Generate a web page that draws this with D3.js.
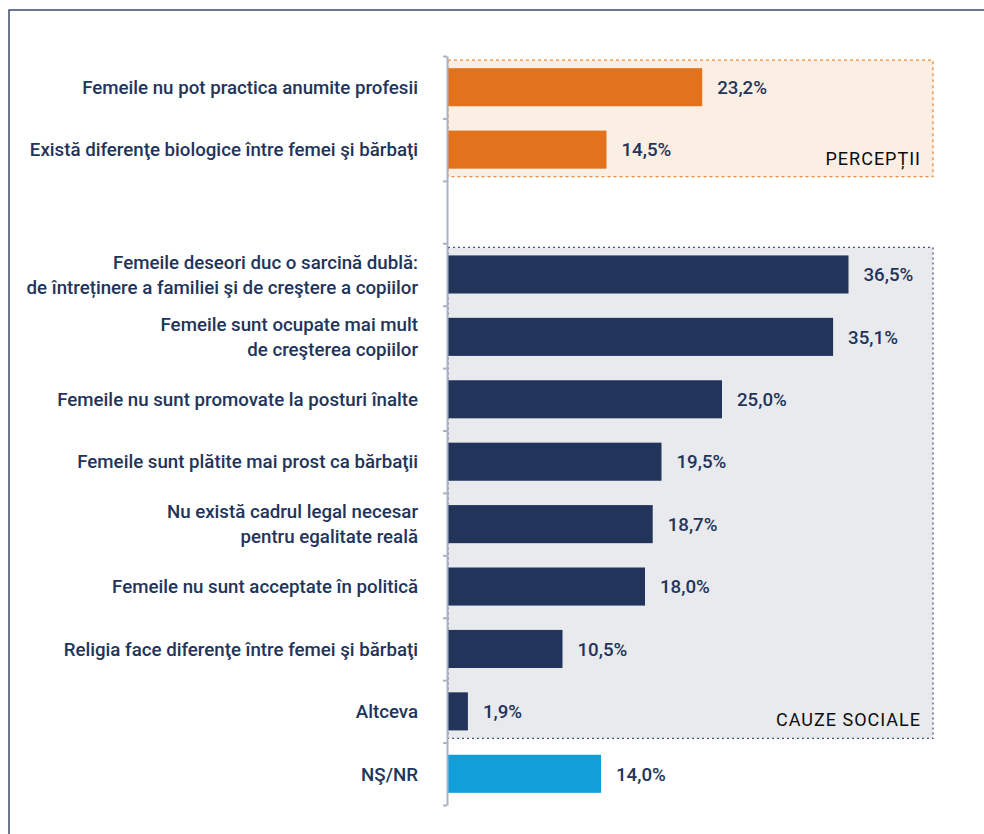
<html>
<head>
<meta charset="utf-8">
<title>Cauze</title>
<style>
  body { margin: 0; background: #fff; font-family: Roboto, Arial, sans-serif; }
</style>
</head>
<body>
<div id="chart"></div>
<script src="https://d3js.org/d3.v7.min.js"></script>
<script>
// row labels (one array per line of text), empty row is the gap between groups
var categories = [
  ['Femeile nu pot practica anumite profesii'],
  ['Există diferenţe biologice între femei şi bărbaţi'],
  [],
  ['Femeile deseori duc o sarcină dublă:', 'de întreținere a familiei şi de creştere a copiilor'],
  ['Femeile sunt ocupate mai mult', 'de creşterea copiilor'],
  ['Femeile nu sunt promovate la posturi înalte'],
  ['Femeile sunt plătite mai prost ca bărbaţii'],
  ['Nu există cadrul legal necesar', 'pentru egalitate reală'],
  ['Femeile nu sunt acceptate în politică'],
  ['Religia face diferenţe între femei şi bărbaţi'],
  ['Altceva'],
  ['NŞ/NR']
];
var values = [23.2, 14.5, null, 36.5, 35.1, 25.0, 19.5, 18.7, 18.0, 10.5, 1.9, 14.0];
var groups = ['perc', 'perc', null, 'soc', 'soc', 'soc', 'soc', 'soc', 'soc', 'soc', 'soc', 'nr'];
var groupNames = {perc: 'PERCEPȚII', soc: 'CAUZE SOCIALE'};

var width = 984, height = 834;
var colors = {perc: '#e2731c', soc: '#22345a', nr: '#119ed9'};
var navy = '#22345a';

var svg = d3.select('#chart').append('svg')
  .attr('width', width)
  .attr('height', height);

// outer frame (runs off the right and bottom edge)
svg.append('rect')
  .attr('x', 9).attr('y', 10)
  .attr('width', width + 20).attr('height', height + 20)
  .attr('fill', 'none')
  .attr('stroke', '#2f3f60')
  .attr('stroke-width', 1.4);

var idx = d3.range(categories.length);
var y = d3.scaleBand().domain(idx).range([56, 805]).paddingInner(0.39).paddingOuter(0.195);
var x = d3.scaleLinear().domain([0, 40]).range([447, 887]);
var boxRight = 933;

// group boxes
['perc', 'soc'].forEach(function(gk) {
  var rows = idx.filter(function(i) { return groups[i] === gk; });
  var top = y(rows[0]) - 8;
  var bottom = y(rows[rows.length - 1]) + y.bandwidth() + 8;
  svg.append('rect')
    .attr('x', x(0) + 1).attr('y', top)
    .attr('width', boxRight - x(0) - 1).attr('height', bottom - top)
    .attr('fill', gk === 'perc' ? '#fbefe4' : '#e8eaee')
    .attr('stroke', gk === 'perc' ? '#ee8a3c' : '#4a5878')
    .attr('stroke-width', 1.3)
    .attr('stroke-dasharray', gk === 'perc' ? '3,3' : '2,3');
  svg.append('text')
    .attr('x', boxRight - 12)
    .attr('y', bottom - 12)
    .attr('text-anchor', 'end')
    .attr('font-size', '18px')
    .attr('letter-spacing', '1px')
    .attr('fill', '#0d0d0d')
    .text(groupNames[gk]);
});

// bars
var rowsWithData = idx.filter(function(i) { return values[i] !== null; });
svg.selectAll('.bar')
  .data(rowsWithData)
  .enter().append('rect')
  .attr('class', 'bar')
  .attr('x', x(0))
  .attr('y', function(i) { return y(i); })
  .attr('width', function(i) { return x(values[i]) - x(0); })
  .attr('height', y.bandwidth())
  .attr('fill', function(i) { return colors[groups[i]]; });

// value labels
svg.selectAll('.val')
  .data(rowsWithData)
  .enter().append('text')
  .attr('class', 'val')
  .attr('x', function(i) { return x(values[i]) + 15; })
  .attr('y', function(i) { return y(i) + y.bandwidth() / 2; })
  .attr('dy', '0.36em')
  .attr('font-size', '18.7px')
  .attr('font-weight', 500)
  .attr('fill', navy)
  .text(function(i) { return values[i].toFixed(1).replace('.', ',') + '%'; });

// category labels
var lab = svg.selectAll('.cat')
  .data(idx)
  .enter().append('text')
  .attr('class', 'cat')
  .attr('text-anchor', 'end')
  .attr('font-size', '18.7px')
  .attr('font-weight', 500)
  .attr('fill', navy);
lab.each(function(i) {
  var lines = categories[i];
  var cy = y(i) + y.bandwidth() / 2;
  var t = d3.select(this);
  lines.forEach(function(l, k) {
    t.append('tspan')
      .attr('x', x(0) - 29)
      .attr('y', cy + (k - (lines.length - 1) / 2) * 25)
      .attr('dy', '0.36em')
      .text(l);
  });
});

// axis with ticks on band boundaries
var yEdges = d3.scaleLinear().domain([0, categories.length]).range([56, 805]);
var axis = svg.append('g')
  .attr('transform', 'translate(' + x(0) + ',0)')
  .call(d3.axisLeft(yEdges).tickValues(d3.range(categories.length + 1)).tickSize(4).tickSizeOuter(0).tickFormat(''));
axis.selectAll('path, line').attr('stroke', '#aab2c4').attr('stroke-width', 2);
</script>
</body>
</html>
